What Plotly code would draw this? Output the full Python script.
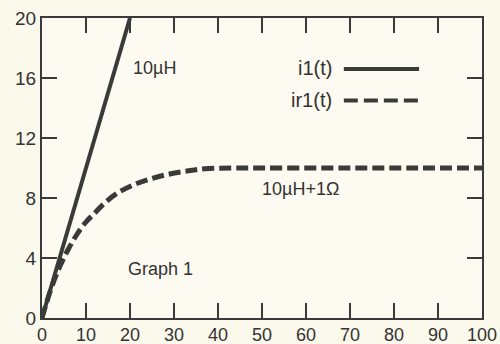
import plotly.graph_objects as go

# data
t_solid = [0, 5, 10, 15, 20]
i1 = [0, 5, 10, 15, 20]

t_dash = [0, 2, 4, 6, 8, 10, 12, 14, 17, 21, 25, 29, 33, 37, 45, 55, 70, 85, 100]
ir1 = [0, 1.9, 3.4, 4.6, 5.6, 6.4, 7.0, 7.6, 8.3, 8.9, 9.3, 9.6, 9.8, 9.95, 10, 10, 10, 10, 10]

x_ticks = [0, 10, 20, 30, 40, 50, 60, 70, 80, 90, 100]
y_ticks = [0, 4, 8, 12, 16, 20]

ink = "#3a3a38"
bg = "#fbf8ec"
font = "Liberation Sans, Arial, sans-serif"

fig = go.Figure()
fig.add_trace(go.Scatter(x=t_solid, y=i1, mode="lines", name="i1(t)",
                         line=dict(color=ink, width=4), showlegend=False))
fig.add_trace(go.Scatter(x=t_dash, y=ir1, mode="lines", name="ir1(t)",
                         line=dict(color=ink, width=5, dash="12px,5px", shape="spline"),
                         showlegend=False))

axis_common = dict(showline=True, linecolor=ink, linewidth=2, mirror="ticks",
                   ticks="inside", ticklen=15, tickwidth=1.5, tickcolor=ink,
                   showgrid=False, zeroline=False, automargin=False)
fig.update_xaxes(range=[0, 100], tickvals=x_ticks, ticklabelstandoff=-1,
                 tickfont=dict(family=font, size=18, color="#333"), **axis_common)
fig.update_yaxes(range=[0, 20], tickvals=y_ticks,
                 tickfont=dict(family=font, size=19, color="#333"), **axis_common)

anns = [
    dict(x=20.2, y=16.7, text="10\u00b5H", xanchor="left"),
    dict(x=49.5, y=8.6, text="10\u00b5H+1\u03a9", xanchor="left"),
    dict(x=19, y=3.3, text="Graph 1", xanchor="left"),
]
for a in anns:
    fig.add_annotation(xref="x", yref="y", showarrow=False, yanchor="middle",
                       font=dict(family=font, size=18, color="#333"), **a)

# legend drawn as text + sample lines
fig.add_annotation(xref="paper", yref="paper", x=0.664, y=0.833, text="i1(t)",
                   showarrow=False, xanchor="right", yanchor="middle",
                   font=dict(family=font, size=20, color="#333"))
fig.add_annotation(xref="paper", yref="paper", x=0.664, y=0.727, text="ir1(t)",
                   showarrow=False, xanchor="right", yanchor="middle",
                   font=dict(family=font, size=20, color="#333"))
fig.add_shape(type="line", xref="paper", yref="paper", x0=0.686, x1=0.857, y0=0.830, y1=0.830,
              line=dict(color=ink, width=4))
fig.add_shape(type="line", xref="paper", yref="paper", x0=0.686, x1=0.857, y0=0.725, y1=0.725,
              line=dict(color=ink, width=4, dash="14px,6px"))

fig.update_layout(width=500, height=344, margin=dict(l=42, r=18, t=18, b=26),
                  paper_bgcolor=bg, plot_bgcolor="#fcfaf1", showlegend=False)
fig.write_html("out.html", config={"displayModeBar": False},
               post_script="document.body.style.margin='0';document.body.style.background='%s';" % bg)
